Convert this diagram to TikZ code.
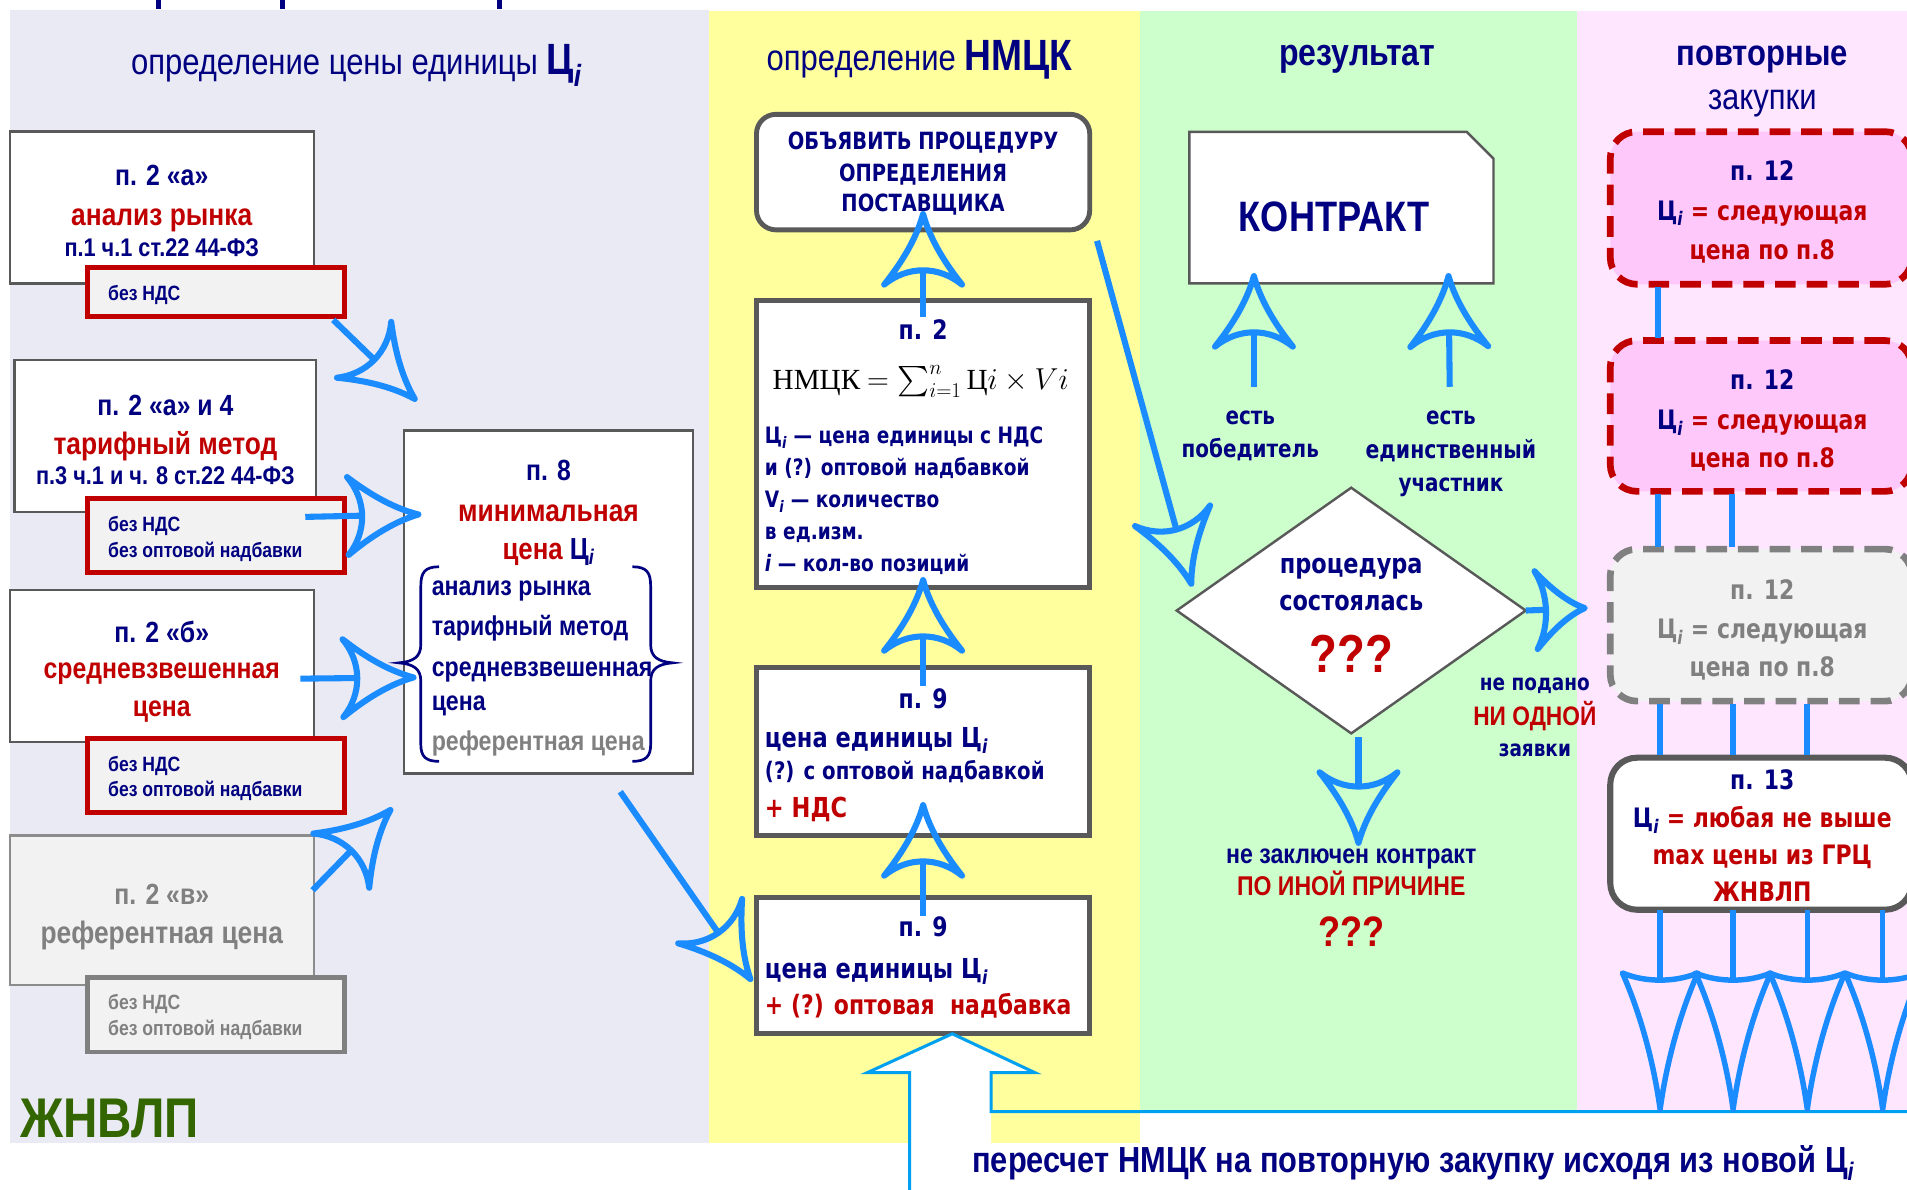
\documentclass[tikz,border=0pt]{standalone}
\usepackage{exscale}
\usepackage{fontspec}
\setmainfont{Liberation Sans}[FakeStretch=0.85]
\newfontfamily\vf{DejaVu Sans}[FakeStretch=0.82]
\newfontfamily\serifcyr{Liberation Serif}
\usetikzlibrary{arrows.meta,shapes.geometric,calc}

\definecolor{navy}{HTML}{000080}
\definecolor{dred}{HTML}{C00000}
\definecolor{tgray}{HTML}{808080}
\definecolor{bgray}{HTML}{595959}
\definecolor{ggray}{HTML}{8C8C8C}
\definecolor{lav}{HTML}{EAEAF4}
\definecolor{yel}{HTML}{FFFF9E}
\definecolor{grn}{HTML}{CCFFCC}
\definecolor{pnk}{HTML}{FFE6FF}
\definecolor{pboxc}{HTML}{FFC8FB}
\definecolor{lgray}{HTML}{F2F2F2}
\definecolor{ablue}{HTML}{1A8CFF}
\definecolor{cblue}{HTML}{00A0F0}
\definecolor{dgreen}{HTML}{336600}

\newcommand\LBf[1]{\fontsize{#1}{#1}\selectfont\bfseries}
\newcommand\LRf[1]{\fontsize{#1}{#1}\selectfont}
\newcommand\VBf[1]{\vf\fontsize{#1}{#1}\selectfont\bfseries}
\newcommand\CI{Ц\textsubscript{\itshape i}}

\pgfdeclarearrow{
  name = Sketch,
  parameters = {\the\pgfarrowlength,\the\pgfarrowwidth,\the\pgfarrowlinewidth},
  setup code = {
    \pgfarrowssettipend{0pt}
    \pgfarrowssetlineend{-0.8\pgfarrowlength}
    \pgfarrowssetbackend{-\pgfarrowlength}
    \pgfarrowssavethe\pgfarrowlength
    \pgfarrowssavethe\pgfarrowwidth
    \pgfarrowssavethe\pgfarrowlinewidth
  },
  drawing code = {
    \pgfsetlinewidth{\pgfarrowlinewidth}
    \pgfsetroundjoin
    \pgfsetdash{}{0pt}
    \pgfpathmoveto{\pgfqpoint{0pt}{0pt}}
    \pgfpathcurveto{\pgfqpoint{-0.4\pgfarrowlength}{0.1\pgfarrowwidth}}{\pgfqpoint{-0.75\pgfarrowlength}{0.32\pgfarrowwidth}}{\pgfqpoint{-\pgfarrowlength}{0.5\pgfarrowwidth}}
    \pgfpathcurveto{\pgfqpoint{-0.73\pgfarrowlength}{0.2\pgfarrowwidth}}{\pgfqpoint{-0.73\pgfarrowlength}{-0.2\pgfarrowwidth}}{\pgfqpoint{-\pgfarrowlength}{-0.5\pgfarrowwidth}}
    \pgfpathcurveto{\pgfqpoint{-0.75\pgfarrowlength}{-0.32\pgfarrowwidth}}{\pgfqpoint{-0.4\pgfarrowlength}{-0.1\pgfarrowwidth}}{\pgfqpoint{0pt}{0pt}}
    \pgfpathclose
    \pgfusepathqstroke
  },
  defaults = {length=58pt, width=64pt, line width=5pt}
}
\pgfdeclarearrow{
  name = SketchT,
  parameters = {\the\pgfarrowlength,\the\pgfarrowwidth,\the\pgfarrowlinewidth},
  setup code = {
    \pgfarrowssettipend{0pt}
    \pgfarrowssetlineend{-0.95\pgfarrowlength}
    \pgfarrowssetbackend{-\pgfarrowlength}
    \pgfarrowssavethe\pgfarrowlength
    \pgfarrowssavethe\pgfarrowwidth
    \pgfarrowssavethe\pgfarrowlinewidth
  },
  drawing code = {
    \pgfsetlinewidth{\pgfarrowlinewidth}
    \pgfsetroundjoin
    \pgfsetdash{}{0pt}
    \pgfpathmoveto{\pgfqpoint{0pt}{0pt}}
    \pgfpathcurveto{\pgfqpoint{-0.4\pgfarrowlength}{0.1\pgfarrowwidth}}{\pgfqpoint{-0.75\pgfarrowlength}{0.3\pgfarrowwidth}}{\pgfqpoint{-\pgfarrowlength}{0.5\pgfarrowwidth}}
    \pgfpathcurveto{\pgfqpoint{-0.93\pgfarrowlength}{0.2\pgfarrowwidth}}{\pgfqpoint{-0.93\pgfarrowlength}{-0.2\pgfarrowwidth}}{\pgfqpoint{-\pgfarrowlength}{-0.5\pgfarrowwidth}}
    \pgfpathcurveto{\pgfqpoint{-0.75\pgfarrowlength}{-0.3\pgfarrowwidth}}{\pgfqpoint{-0.4\pgfarrowlength}{-0.1\pgfarrowwidth}}{\pgfqpoint{0pt}{0pt}}
    \pgfpathclose
    \pgfusepathqstroke
  },
  defaults = {length=112pt, width=62pt, line width=4.5pt}
}

\begin{document}
\begin{tikzpicture}[x=1pt,y=-1pt,
  every node/.style={inner sep=0pt,outer sep=0pt},
  t/.style={anchor=base,text=navy},
  tw/.style={anchor=base west,text=navy},
  L/.style={font=\LBf{#1},yshift={-0.37*#1}},
  R/.style={font=\LRf{#1},yshift={-0.37*#1}},
  V/.style={font=\VBf{#1},yshift={-0.37*#1}},
  lbox/.style={draw=bgray,line width=2pt,fill=white},
  lgbox/.style={draw=ggray,line width=2pt,fill=lgray},
  rsub/.style={draw=dred,line width=4pt,fill=lgray},
  gsub/.style={draw=tgray,line width=4pt,fill=lgray},
  mbox/.style={draw=bgray,line width=4pt,fill=white},
  rdash/.style={draw=dred,line width=5.5pt,dash pattern=on 17pt off 9pt,rounded corners=22pt,fill=pboxc},
  gdash/.style={draw=tgray,line width=5.5pt,dash pattern=on 17pt off 9pt,rounded corners=22pt,fill=lgray},
  sbox/.style={draw=bgray,line width=5pt,rounded corners=22pt,fill=white},
  arr/.style={draw=ablue,line width=5pt,-{Sketch[length=58pt,width=64pt,line width=5pt]}},
  arrs/.style={draw=ablue,line width=5pt,-{Sketch[length=40pt,width=64pt,line width=5pt]}},
  arrt/.style={draw=ablue,line width=4.5pt,-{SketchT[length=112pt,width=62pt,line width=4.5pt]}},
  link/.style={draw=ablue,line width=5pt}
]
\useasboundingbox (0,0) rectangle (1568,978);
\clip (0,0) rectangle (1568,978);
\fill[white] (0,0) rectangle (1568,978);
% panels
\fill[lav] (8,8) rectangle (583,940);
\fill[yel] (583,9) rectangle (937,940);
\fill[grn] (937,9) rectangle (1297,914);
\fill[pnk] (1297,9) rectangle (1568,914);
% cut title fragments
\fill[navy] (128,0) rectangle (132,7);
\fill[navy] (230,0) rectangle (234,7);
\fill[navy] (409,0) rectangle (413,7);

% headings
\node[t,R=30] (hL) at (293,50) {определение цены единицы {\LBf{36}\CI}};
\node[t,R=30] (hM) at (756,47) {определение {\LBf{36}НМЦК}};
\node[t,L=31] (hG) at (1116,42.5) {результат};
\node[t,L=30] (hP1) at (1449,42.5) {повторные};
\node[t,R=30] (hP2) at (1449,79) {закупки};

% left column boxes
\node[lbox,minimum width=250pt,minimum height=125pt] (boxA) at (133,170.5) {};
\node[rsub,minimum width=211pt,minimum height=40pt] (subA) at (177.5,240) {};
\node[lbox,minimum width=248pt,minimum height=125pt] (boxB) at (136,358.5) {};
\node[rsub,minimum width=211pt,minimum height=61pt] (subB) at (177.5,440.5) {};
\node[lbox,minimum width=250pt,minimum height=125pt] (boxC) at (133,547.5) {};
\node[rsub,minimum width=211pt,minimum height=61pt] (subC) at (177.5,637.5) {};
\node[lgbox,minimum width=250pt,minimum height=123pt] (boxD) at (133,748.5) {};
\node[gsub,minimum width=211pt,minimum height=61pt] (subD) at (177.5,834.5) {};

\node[t,L=24] (tA1) at (133,144) {п. 2 «а»};
\node[t,L=25.5,text=dred] (tA2) at (133,176) {анализ рынка};
\node[t,L=21] (tA3) at (133,203) {п.1 ч.1 ст.22 44-ФЗ};
\node[tw,L=17] (sA1) at (89,241) {без НДС};

\node[t,L=24] (tB1) at (136,333) {п. 2 «а» и 4};
\node[t,L=25.5,text=dred] (tB2) at (136,364) {тарифный метод};
\node[t,L=21] (tB3) at (136,391) {п.3 ч.1 и ч. 8 ст.22 44-ФЗ};
\node[tw,L=17] (sB1) at (89,431) {без НДС};
\node[tw,L=17] (sB2) at (89,452) {без оптовой надбавки};

\node[t,L=24] (tC1) at (133,519) {п. 2 «б»};
\node[t,L=24,text=dred] (tC2) at (133,549) {средневзвешенная};
\node[t,L=24,text=dred] (tC3) at (133,580) {цена};
\node[tw,L=17] (sC1) at (89,628) {без НДС};
\node[tw,L=17] (sC2) at (89,649) {без оптовой надбавки};

\node[t,L=24,text=tgray] (tD1) at (133,735) {п. 2 «в»};
\node[t,L=25.5,text=tgray] (tD2) at (133,766) {референтная цена};
\node[tw,L=17,text=tgray] (sD1) at (89,824) {без НДС};
\node[tw,L=17,text=tgray] (sD2) at (89,845) {без оптовой надбавки};

\node[tw,L=46,text=dgreen] (zh) at (17,918) {ЖНВЛП};

% p.8 box
\node[lbox,minimum width=238pt,minimum height=282pt] (p8) at (451,495) {};
\node[t,L=24] (p8a) at (451,386) {п. 8};
\node[t,L=25.5,text=dred] (p8b) at (451,419) {минимальная};
\node[t,L=25,text=dred] (p8c) at (451,451) {цена \textcolor{navy}{\CI}};
\node[tw,L=22.4] (l1) at (355,481) {анализ рынка};
\node[tw,L=22.4] (l2) at (355,514) {тарифный метод};
\node[tw,L=22.4] (l3) at (355,548) {средневзвешенная};
\node[tw,L=22.4] (l4) at (355,576) {цена};
\node[tw,L=22.4,text=tgray] (l5) at (355,609) {референтная цена};
\draw[navy,line width=2.2pt] (361,466) .. controls (349,466) and (346,471) .. (346,482) -- (346,530) .. controls (346,540) and (340,544) .. (328,545) .. controls (340,546) and (346,550) .. (346,560) -- (346,612) .. controls (346,622) and (350,626) .. (361,626);
\draw[navy,line width=2.2pt] (520,466) .. controls (532,466) and (535,471) .. (535,482) -- (535,530) .. controls (535,540) and (541,544) .. (553,545) .. controls (541,546) and (535,550) .. (535,560) -- (535,612) .. controls (535,622) and (531,626) .. (520,626);

% middle column
\node[mbox,rounded corners=16pt,minimum width=274pt,minimum height=95pt] (obj) at (759,141.5) {};
\node[t,V=19.5] (o1) at (759,116) {ОБЪЯВИТЬ ПРОЦЕДУРУ};
\node[t,V=19.5] (o2) at (759,142) {ОПРЕДЕЛЕНИЯ};
\node[t,V=19.5] (o3) at (759,167) {ПОСТАВЩИКА};

\node[mbox,minimum width=274pt,minimum height=236pt] (p2) at (759,365) {};
\node[t,V=22] (p2a) at (759,271) {п. 2};
\node[anchor=base,font=\fontsize{24}{24}\selectfont,yshift=-8pt] (frm) at (757,312) {{\serifcyr НМЦК} $=\sum_{i=1}^{n}$\,{\serifcyr Ц}$i\times Vi$};
\node[tw,V=18.6] (p2b) at (629,358) {\CI\ — цена единицы с НДС};
\node[tw,V=18.6] (p2c) at (629,384) {и (?) оптовой надбавкой};
\node[tw,V=18.6] (p2d) at (629,410.5) {V\textsubscript{\itshape i} — количество};
\node[tw,V=18.6] (p2e) at (629,437) {в ед.изм.};
\node[tw,V=18.6] (p2f) at (629,463) {{\itshape i} — кол-во позиций};

\node[mbox,minimum width=274pt,minimum height=138pt] (p9a) at (759,618) {};
\node[t,V=22] (p9a1) at (759,574) {п. 9};
\node[tw,V=22.6] (p9a2) at (629,606) {цена единицы \CI};
\node[tw,V=19.8] (p9a3) at (629,634) {(?) с оптовой надбавкой};
\node[tw,V=22.6,text=dred] (p9a4) at (629,663.5) {+ НДС};

\node[mbox,minimum width=274pt,minimum height=112pt] (p9b) at (759,794) {};
\node[t,V=22] (p9b1) at (759,762) {п. 9};
\node[tw,V=22.6] (p9b2) at (629,796) {цена единицы \CI};
\node[tw,V=22,text=dred] (p9b3) at (629,826) {+ (?) оптовая\ \ надбавка};

% green column
\node[minimum width=250pt,minimum height=124.5pt] (contract) at (1103,170.75) {};
\draw[draw=bgray,line width=2pt,fill=white] (contract.south west) -- (contract.north west) -- ($(contract.north east)+(-22,0)$) -- ($(contract.north east)+(0,22)$) -- (contract.south east) -- cycle;
\node[t,L=35] (kontr) at (1097,177) {КОНТРАКТ};
\node[t,V=20] (e1) at (1028,342) {есть};
\node[t,V=20] (e2) at (1028,369) {победитель};
\node[t,V=20] (e3) at (1193,342) {есть};
\node[t,V=20.5] (e4) at (1193,369) {единственный};
\node[t,V=20] (e5) at (1193,397) {участник};

\node[diamond,draw=bgray,line width=2pt,fill=white,minimum width=287pt,minimum height=202pt] (dia) at (1111,502) {};
\node[t,V=22.5] (d1) at (1111,463) {процедура};
\node[t,V=22.5] (d2) at (1111,494) {состоялась};
\node[t,L=44,text=dred] (d3) at (1111,537) {???};

\node[t,V=18.5] (n1) at (1262,561) {не подано};
\node[t,L=22,text=dred] (n2) at (1262,588) {НИ ОДНОЙ};
\node[t,V=18.5] (n3) at (1262,615) {заявки};

\node[t,L=22.4] (z1) at (1111,702) {не заключен контракт};
\node[t,L=22.3,text=dred] (z2) at (1111,728) {ПО ИНОЙ ПРИЧИНЕ};
\node[t,L=35,text=dred] (z3) at (1111,765) {???};

% pink column
\node[rdash,minimum width=248pt,minimum height=125.5pt] (b12a) at (1448,171) {};
\node[rdash,minimum width=248pt,minimum height=124pt] (b12b) at (1448,342) {};
\node[gdash,minimum width=248pt,minimum height=125pt] (b12c) at (1448,514) {};
\node[sbox,minimum width=248pt,minimum height=125pt] (b13) at (1448,685.5) {};

\node[t,V=22] (q1) at (1449,140) {п. 12};
\node[t,V=22,text=dred] (q2) at (1449,173) {\textcolor{navy}{\CI} = следующая};
\node[t,V=22,text=dred] (q3) at (1449,205) {цена по п.8};
\node[t,V=22] (r1) at (1449,312) {п. 12};
\node[t,V=22,text=dred] (r2) at (1449,345) {\textcolor{navy}{\CI} = следующая};
\node[t,V=22,text=dred] (r3) at (1449,376) {цена по п.8};
\node[t,V=22,text=tgray] (s1) at (1449,485) {п. 12};
\node[t,V=22,text=tgray] (s2) at (1449,517) {\CI\ = следующая};
\node[t,V=22,text=tgray] (s3) at (1449,548) {цена по п.8};
\node[t,V=22] (u1) at (1449,641) {п. 13};
\node[t,V=22,text=dred] (u2) at (1449,672.5) {\textcolor{navy}{\CI} = любая не выше};
\node[t,V=22,text=dred] (u3) at (1449,703) {max цены из ГРЦ};
\node[t,V=22,text=dred] (u4) at (1449,733) {ЖНВЛП};

% links between pink boxes
\draw[link] ($(b12a.south west)+(39,2)$) -- ($(b12b.north west)+(39,-2)$);
\draw[link] ($(b12b.south west)+(39,2)$) -- ($(b12c.north west)+(39,-2)$);
\draw[link] ($(b12b.south west)+(100,2)$) -- ($(b12c.north west)+(100,-2)$);
\draw[link] ($(b12c.south west)+(41,2)$) -- ($(b13.north west)+(41,-2)$);
\draw[link] ($(b12c.south west)+(101,2)$) -- ($(b13.north west)+(101,-2)$);
\draw[link] ($(b12c.south west)+(162,2)$) -- ($(b13.north west)+(162,-2)$);

% big outline arrow and bottom line
\coordinate (bigtip) at ($(p9b.south)+(24,0)$);
\fill[white] (748,990) -- (748,882) -- (713,882) -- (bigtip) -- (851,882) -- (815,882) -- (815,990) -- cycle;
\draw[cblue,line width=2.5pt] (748,990) -- (748,882) -- (713,882) -- (bigtip) -- (851,882) -- (815,882) -- (815,914) -- (1580,914);
\node[t,L=29.8] (recalc) at (1162,953) {пересчет НМЦК на повторную закупку исходя из новой \CI};

% arrows
\draw[arr] ($(subA.south east)+(-9,3)$) -- ($(p8.north west)+(9,-26)$);
\draw[arr] ($(subB.east)+(-32,-15.5)$) -- ($(p8.west)+(12,-72)$);
\draw[arr] ($(boxC.east)+(-11,10.5)$) -- ($(p8.west)+(8,62)$);
\draw[arr] ($(boxD.east)+(-1,-16.5)$) -- ($(p8.south west)+(-11,30)$);
\draw[arr] ($(p8.south)+(59,15)$) -- ($(p9b.west)+(-5,11)$);
\draw[arr] ($(obj.south east)+(6,9)$) -- ($(dia.west)+(12,-22)$);
\draw[arr] ($(p2.north)+(0,14)$) -- ($(obj.south)+(0,-13)$);
\draw[arr] ($(p9a.north)+(0,15)$) -- ($(p2.south)+(0,-6)$);
\draw[arr] ($(p9b.north)+(0,15)$) -- ($(p9a.south)+(0,-25)$);
\draw[arr] ($(dia.north)+(-80,-83)$) -- ($(contract.south west)+(53,-6)$);
\draw[arr] ($(dia.north)+(81,-83)$) -- ($(contract.south west)+(213,-6)$);
\coordinate (downtip) at ($(dia.south)+(6,90)$);
\draw[arr] ($(dia.south)+(6,3)$) -- (downtip);
\draw[arrs] (dia.east) -- ($(b12c.west)+(-21,-14)$);
\coordinate (bt1) at (1365,912);
\coordinate (bt2) at (1425,912);
\coordinate (bt3) at (1486,912);
\coordinate (bt4) at (1548,912);
\draw[arrt] ($(b13.south west)+(41,0)$) -- (bt1);
\draw[arrt] ($(b13.south west)+(101,0)$) -- (bt2);
\draw[arrt] ($(b13.south west)+(162,0)$) -- (bt3);
\draw[arrt] ($(b13.south west)+(224,0)$) -- (bt4);
\end{tikzpicture}
\end{document}
